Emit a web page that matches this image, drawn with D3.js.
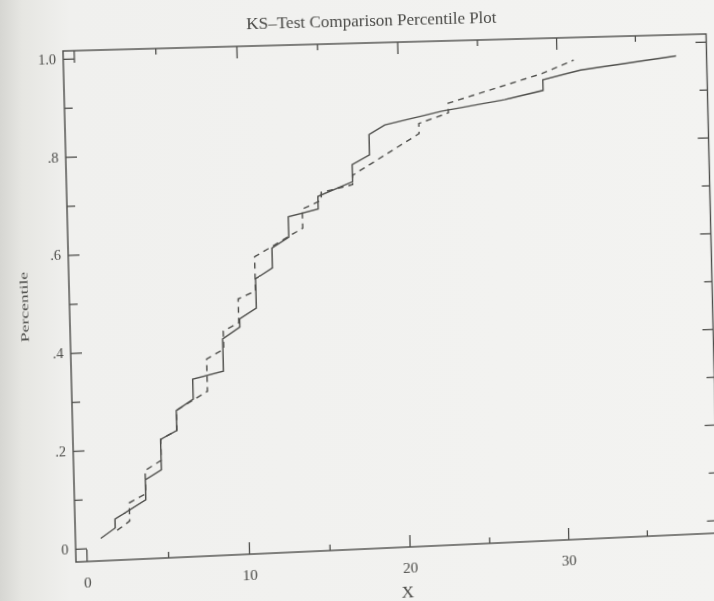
<!DOCTYPE html>
<html>
<head>
<meta charset="utf-8">
<script src="https://cdn.jsdelivr.net/npm/d3@7"></script>
<style>
html, body { margin: 0; padding: 0; }
body {
  width: 714px; height: 601px; overflow: hidden;
  background: linear-gradient(to right, #d6d6d2 0px, #e6e6e2 22px, #f0f0ee 70px, #f3f3f1 100%);
}
#canvas { position: absolute; left: 0; top: 0; transform-origin: 0 0; overflow: visible; }
text { font-family: "Liberation Serif", "DejaVu Serif", serif; fill: #4a4a47; }
</style>
</head>
<body>
<svg id="canvas" width="714" height="601"></svg>
<script>
//KS-test comparison percentile plot

//vertices of the two percentile curves
var solidX = [0.9, 1.8, 1.8, 3.72, 3.72, 4.72, 4.72, 5.73, 5.73, 6.79, 6.79, 8.7, 8.7, 9.78, 9.78,
              10.83, 10.83, 11.89, 11.89, 12.95, 12.95, 14.82, 14.82, 17.0, 17.0, 18.1, 18.1, 19.1,
              22.7, 26.65, 29.1, 29.1, 31.5, 37.6];
var solidY = [0.019, 0.039, 0.057, 0.094, 0.135, 0.154, 0.216, 0.233, 0.274, 0.296, 0.337, 0.351, 0.417, 0.440, 0.457,
              0.478, 0.538, 0.559, 0.600, 0.621, 0.663, 0.677, 0.703, 0.731, 0.766, 0.785, 0.827, 0.846,
              0.871, 0.891, 0.908, 0.930, 0.948, 0.972];

var dashX = [1.92, 2.7, 2.7, 3.72, 3.72, 4.72, 4.72, 5.73, 5.73, 7.68, 7.68, 8.75, 8.75, 9.72, 9.72,
             10.8, 10.8, 13.83, 13.83, 15.03, 15.03, 17.0, 17.0, 21.23, 21.23, 23.1, 23.1, 29.06, 31.08];
var dashY = [0.034, 0.052, 0.089, 0.106, 0.154, 0.173, 0.216, 0.233, 0.274, 0.311, 0.377, 0.396, 0.433, 0.449, 0.498,
             0.513, 0.583, 0.639, 0.678, 0.695, 0.711, 0.725, 0.744, 0.826, 0.847, 0.867, 0.887, 0.943, 0.969];

//ticks
var xMajor = [0, 10, 20, 30];
var xMinor = [5, 15, 25, 35];
var yMajor = [0, 0.2, 0.4, 0.6, 0.8, 1.0];
var yMinor = [0.1, 0.3, 0.5, 0.7, 0.9];
var yLabels = ["0", ".2", ".4", ".6", ".8", "1.0"];

var titleText = "KS\u2013Test Comparison Percentile Plot";
var xTitle = "X";
var yTitle = "Percentile";

var svg = d3.select("#canvas");
var width = +svg.attr("width");
var height = +svg.attr("height");
var ink = "#4e4e4b";

//flat plot, before it gets bent onto the photographed page
var xScale = d3.scaleLinear().domain([-0.65, 39.55]).range([68, 709.5]);
var yScale = d3.scaleLinear().domain([-0.027, 1.016]).range([555, 45]);

var plotLeft = xScale.range()[0], plotRight = xScale.range()[1];
var plotTop = yScale.range()[1], plotBottom = yScale.range()[0];

//homography from 4 point pairs (the page was shot at a slant)
function solveH(src, dst) {
	var A = [], b = [];
	for (var i = 0; i < 4; i++) {
		var x = src[i][0], y = src[i][1], u = dst[i][0], v = dst[i][1];
		A.push([x, y, 1, 0, 0, 0, -x * u, -y * u]); b.push(u);
		A.push([0, 0, 0, x, y, 1, -x * v, -y * v]); b.push(v);
	}
	for (var c = 0; c < 8; c++) {
		var p = c;
		for (var r = c + 1; r < 8; r++) if (Math.abs(A[r][c]) > Math.abs(A[p][c])) p = r;
		var t = A[c]; A[c] = A[p]; A[p] = t;
		t = b[c]; b[c] = b[p]; b[p] = t;
		for (var r = c + 1; r < 8; r++) {
			var f = A[r][c] / A[c][c];
			for (var k = c; k < 8; k++) A[r][k] -= f * A[c][k];
			b[r] -= f * b[c];
		}
	}
	var h = new Array(8);
	for (var r = 7; r >= 0; r--) {
		var s = b[r];
		for (var k = r + 1; k < 8; k++) s -= A[r][k] * h[k];
		h[r] = s / A[r][r];
	}
	return h;
}
function applyH(h, p) {
	var w = h[6] * p[0] + h[7] * p[1] + 1;
	return [(h[0] * p[0] + h[1] * p[1] + h[2]) / w, (h[3] * p[0] + h[4] * p[1] + h[5]) / w];
}

//frame corners flat -> where they are on the page
var flatPts = [[plotLeft, plotTop], [plotRight, plotTop], [plotRight, plotBottom], [plotLeft, plotBottom]];
var pagePts = [[63, 51], [706, 34], [718, 533], [76, 562]];
var H = solveH(flatPts, pagePts);
var Hinv = solveH(pagePts, flatPts);
svg.style("transform", "matrix3d(" + [H[0], H[3], 0, H[6], H[1], H[4], 0, H[7], 0, 0, 1, 0, H[2], H[5], 0, 1].join(",") + ")");

//frame
svg.append("rect")
	.attr("x", plotLeft).attr("y", plotTop)
	.attr("width", plotRight - plotLeft).attr("height", plotBottom - plotTop)
	.style("fill", "none").style("stroke", ink).style("stroke-width", 1.4);

function styleAxis(g, size) {
	g.select(".domain").remove();
	g.selectAll(".tick line").style("stroke", ink).style("stroke-width", 1.3);
	g.selectAll(".tick text").style("font-size", size + "px")
		.style("font-family", "'Liberation Serif', serif").style("fill", "#4a4a47");
}

//bottom axis
svg.append("g").attr("transform", "translate(0," + plotBottom + ")")
	.call(d3.axisBottom(xScale).tickValues(xMajor).tickSize(-12).tickSizeOuter(0).tickPadding(15).tickFormat(d3.format("d")))
	.call(styleAxis, 15);
svg.append("g").attr("transform", "translate(0," + plotBottom + ")")
	.call(d3.axisBottom(xScale).tickValues(xMinor).tickSize(-6).tickSizeOuter(0).tickFormat(""))
	.call(styleAxis, 15);
//top axis
svg.append("g").attr("transform", "translate(0," + plotTop + ")")
	.call(d3.axisTop(xScale).tickValues(xMajor).tickSize(-12).tickSizeOuter(0).tickFormat(""))
	.call(styleAxis, 15);
svg.append("g").attr("transform", "translate(0," + plotTop + ")")
	.call(d3.axisTop(xScale).tickValues(xMinor).tickSize(-6).tickSizeOuter(0).tickFormat(""))
	.call(styleAxis, 15);

//left axis
svg.append("g").attr("transform", "translate(" + plotLeft + ",0)")
	.call(d3.axisLeft(yScale).tickValues(yMajor).tickSize(-11).tickSizeOuter(0).tickPadding(7)
		.tickFormat(function(d, i) { return yLabels[i]; }))
	.call(styleAxis, 14);
svg.append("g").attr("transform", "translate(" + plotLeft + ",0)")
	.call(d3.axisLeft(yScale).tickValues(yMinor).tickSize(-8).tickSizeOuter(0).tickFormat(""))
	.call(styleAxis, 14);
//right axis
svg.append("g").attr("transform", "translate(" + plotRight + ",0)")
	.call(d3.axisRight(yScale).tickValues(yMajor).tickSize(-11).tickSizeOuter(0).tickFormat(""))
	.call(styleAxis, 14);
svg.append("g").attr("transform", "translate(" + plotRight + ",0)")
	.call(d3.axisRight(yScale).tickValues(yMinor).tickSize(-8).tickSizeOuter(0).tickFormat(""))
	.call(styleAxis, 14);

//curves
var curveLine = d3.line()
	.x(function(d) { return xScale(d[0]); })
	.y(function(d) { return yScale(d[1]); });

svg.append("path")
	.datum(d3.zip(solidX, solidY))
	.attr("d", curveLine)
	.style("fill", "none").style("stroke", ink).style("stroke-width", 1.4);

svg.append("path")
	.datum(d3.zip(dashX, dashY))
	.attr("d", curveLine)
	.style("fill", "none").style("stroke", ink).style("stroke-width", 1.4)
	.style("stroke-dasharray", "6,5");

//titles, placed where they sit on the page
var tPos = applyH(Hinv, [372, 26]);
svg.append("text")
	.attr("x", tPos[0]).attr("y", tPos[1])
	.attr("text-anchor", "middle")
	.style("font-size", "17px")
	.text(titleText);

var xPos = applyH(Hinv, [408, 597]);
svg.append("text")
	.attr("x", xPos[0]).attr("y", xPos[1])
	.attr("text-anchor", "middle")
	.style("font-size", "17px")
	.text(xTitle);

var yPos = applyH(Hinv, [28, 307]);
svg.append("text")
	.attr("transform", "translate(" + yPos[0] + "," + yPos[1] + ") rotate(-90)")
	.attr("text-anchor", "middle")
	.attr("textLength", 70)
	.attr("lengthAdjust", "spacingAndGlyphs")
	.style("font-size", "11px")
	.text(yTitle);
</script>
</body>
</html>
